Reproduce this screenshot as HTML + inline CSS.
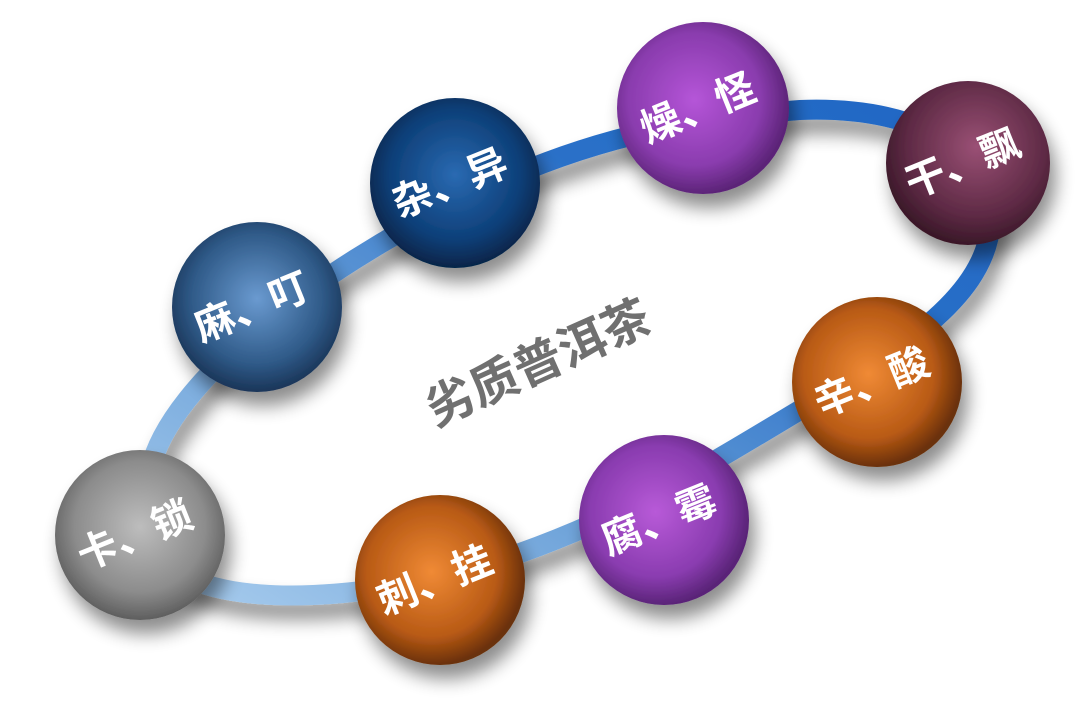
<!DOCTYPE html>
<html><head><meta charset="utf-8"><style>
html,body{margin:0;padding:0;background:#fff;width:1080px;height:711px;overflow:hidden}
svg{display:block}
text{font-family:"Liberation Sans","Noto Sans CJK SC",sans-serif;font-weight:bold}
</style></head><body>
<svg width="1080" height="711" viewBox="0 0 1080 711" xmlns="http://www.w3.org/2000/svg">
<defs>
<linearGradient id="ring" x1="0" y1="1" x2="1" y2="0">
<stop offset="0" stop-color="#a9cdee"/><stop offset="0.35" stop-color="#6aa0d8"/><stop offset="0.7" stop-color="#2a70c8"/><stop offset="1" stop-color="#1f66c4"/>
</linearGradient>
<filter id="sh" x="-30%" y="-30%" width="160%" height="160%"><feGaussianBlur in="SourceAlpha" stdDeviation="9"/><feOffset dx="6" dy="14"/><feComponentTransfer><feFuncA type="linear" slope="0.45"/></feComponentTransfer><feMerge><feMergeNode/><feMergeNode in="SourceGraphic"/></feMerge></filter>
<radialGradient id="g1" cx="0.5" cy="0.45" r="0.55"><stop offset="0" stop-color="#6a9ad0"/><stop offset="0.7" stop-color="#2f5a88"/><stop offset="1" stop-color="#1a3558"/></radialGradient>
<radialGradient id="g2" cx="0.5" cy="0.45" r="0.55"><stop offset="0" stop-color="#2a6ab2"/><stop offset="0.7" stop-color="#0d3f78"/><stop offset="1" stop-color="#062448"/></radialGradient>
<radialGradient id="g3" cx="0.45" cy="0.45" r="0.55"><stop offset="0" stop-color="#b555d8"/><stop offset="0.7" stop-color="#8a3cae"/><stop offset="1" stop-color="#5c2478"/></radialGradient>
<radialGradient id="g4" cx="0.55" cy="0.4" r="0.6"><stop offset="0" stop-color="#9a5075"/><stop offset="0.7" stop-color="#5e2a45"/><stop offset="1" stop-color="#3a1828"/></radialGradient>
<radialGradient id="g5" cx="0.45" cy="0.45" r="0.55"><stop offset="0" stop-color="#f08a35"/><stop offset="0.7" stop-color="#b85a15"/><stop offset="1" stop-color="#6a3008"/></radialGradient>
<radialGradient id="g6" cx="0.45" cy="0.45" r="0.55"><stop offset="0" stop-color="#b85ad8"/><stop offset="0.7" stop-color="#8a3cb0"/><stop offset="1" stop-color="#5a2478"/></radialGradient>
<radialGradient id="g8" cx="0.5" cy="0.45" r="0.55"><stop offset="0" stop-color="#bdbdbd"/><stop offset="0.7" stop-color="#8c8c8c"/><stop offset="1" stop-color="#5e5e5e"/></radialGradient>
</defs>
<path filter="url(#sh)" d="M150 470 C170 380 320 270 460 200 C560 150 660 120 800 110 C930 105 1000 160 990 230 C980 300 900 350 800 410 C700 470 620 520 500 560 C380 600 230 610 175 570 C150 550 145 500 150 470 Z" fill="none" stroke="url(#ring)" stroke-width="20"/>
<g filter="url(#sh)">
<circle cx="257" cy="307" r="85" fill="url(#g1)"/>
<circle cx="455" cy="183" r="85" fill="url(#g2)"/>
<circle cx="703" cy="108" r="86" fill="url(#g3)"/>
<circle cx="968" cy="163" r="82" fill="url(#g4)"/>
<circle cx="877" cy="382" r="85" fill="url(#g5)"/>
<circle cx="664" cy="520" r="85" fill="url(#g6)"/>
<circle cx="440" cy="580" r="85" fill="url(#g5)"/>
<circle cx="140" cy="535" r="85" fill="url(#g8)"/>
</g>
<g fill="#fff" font-size="40" text-anchor="middle">
<text transform="translate(257,320) rotate(-22)">麻、叮</text>
<text transform="translate(455,196) rotate(-22)">杂、异</text>
<text transform="translate(703,121) rotate(-22)">燥、怪</text>
<text transform="translate(968,176) rotate(-22)">干、飘</text>
<text transform="translate(877,395) rotate(-22)">辛、酸</text>
<text transform="translate(664,533) rotate(-22)">腐、霉</text>
<text transform="translate(440,593) rotate(-22)">刺、挂</text>
<text transform="translate(140,548) rotate(-22)">卡、锁</text>
</g>
<text transform="translate(545,378) rotate(-24)" font-size="48" fill="#707070" text-anchor="middle">劣质普洱茶</text>
</svg>
</body></html>
